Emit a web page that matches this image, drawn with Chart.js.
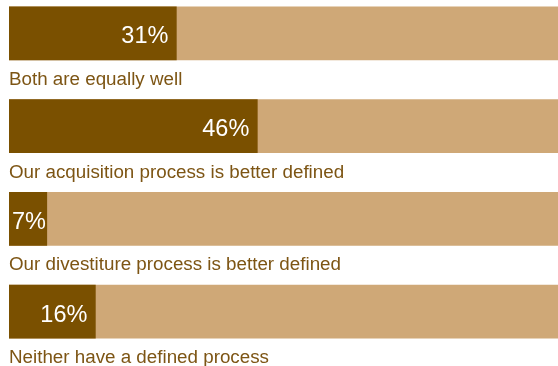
<!DOCTYPE html>
<html>
<head>
<meta charset="utf-8">
<script src="https://cdn.jsdelivr.net/npm/chart.js@4/dist/chart.umd.min.js"></script>
<style>
  html, body { margin:0; padding:0; background:#fff; overflow:hidden; }
  #wrap { position:absolute; left:0; top:-13px; width:558px; height:391px; }
</style>
</head>
<body>
<div id="wrap"><canvas id="chart"></canvas></div>
<script>
const categories = [
  "Both are equally well",
  "Our acquisition process is better defined",
  "Our divestiture process is better defined",
  "Neither have a defined process"
]
const shares = [31, 46, 7, 16]
const trackEnd = 101.7
const track = categories.map(() => trackEnd)

const dark = "#7a5000"
const light = "#cfa877"
const textBrown = "#7d5514"

// value inside the dark bar + category text under each bar
const barLabels = {
  id: "barLabels",
  afterDatasetsDraw(chart) {
    const ctx = chart.ctx
    const bars = chart.getDatasetMeta(0).data
    ctx.save()
    bars.forEach((bar, i) => {
      ctx.font = "23.5px 'Liberation Sans', Arial, sans-serif"
      ctx.fillStyle = "#ffffff"
      ctx.textAlign = "right"
      ctx.textBaseline = "alphabetic"
      const txt = shares[i] + "%"
      const w = ctx.measureText(txt).width
      const x = Math.max(bar.x - 8, bar.base + w + 3)
      ctx.fillText(txt, x, bar.y + 10)

      ctx.font = "18.8px 'Liberation Sans', Arial, sans-serif"
      ctx.fillStyle = textBrown
      ctx.textAlign = "left"
      ctx.fillText(categories[i], bar.base, bar.y + bar.height / 2 + 25)
    })
    ctx.restore()
  }
}

new Chart(document.querySelector("#chart"), {
  type: "bar",
  data: {
    labels: categories,
    datasets: [
      { data: shares, backgroundColor: dark, barThickness: 53, grouped: false, borderWidth: 0 },
      { data: track, backgroundColor: light, barThickness: 53, grouped: false, borderWidth: 0 }
    ]
  },
  options: {
    indexAxis: "y",
    responsive: true,
    maintainAspectRatio: false,
    animation: false,
    layout: { padding: { left: 9, right: 0, top: 0, bottom: 20 } },
    plugins: { legend: { display: false }, tooltip: { enabled: false } },
    scales: {
      x: { display: false, min: 0, max: trackEnd },
      y: { display: false }
    }
  },
  plugins: [barLabels]
})
</script>
</body>
</html>
